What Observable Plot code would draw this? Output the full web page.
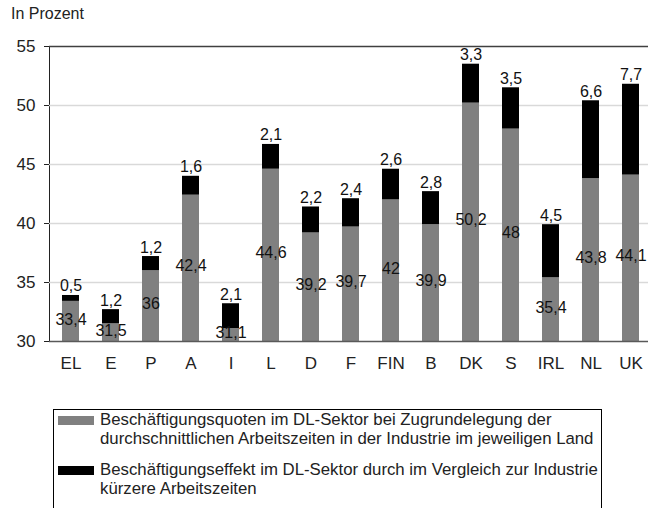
<!DOCTYPE html>
<html>
<head>
<meta charset="utf-8">
<script src="https://cdn.jsdelivr.net/npm/d3@7"></script>
<script src="https://cdn.jsdelivr.net/npm/@observablehq/plot@0.6"></script>
<style>
  html, body { margin: 0; padding: 0; background: #fff; overflow: hidden; }
  body { width: 648px; height: 508px; position: relative; font-family: "Liberation Sans", Arial, sans-serif; color: #222; }
  #title { position: absolute; left: 11px; top: 5px; font-size: 16px; }
  #chart { position: absolute; left: 0; top: 30px; }
  #legend { position: absolute; left: 53px; top: 409px; width: 549px; height: 120px; border: 1px solid #000; box-sizing: border-box; font-size: 16.8px; line-height: 19px; }
  .item { position: relative; padding-left: 46px; }
  .sw { position: absolute; left: 4px; top: 6px; width: 36px; height: 9px; }
</style>
</head>
<body>
<div id="title">In Prozent</div>
<div id="chart"></div>
<div id="legend">
  <div class="item" style="margin-top:0px"><span class="sw" style="background:#808080"></span>Beschäftigungsquoten im DL-Sektor bei Zugrundelegung der<br>durchschnittlichen Arbeitszeiten in der Industrie im jeweiligen Land</div>
  <div class="item" style="margin-top:12px"><span class="sw" style="background:#000"></span>Beschäftigungseffekt im DL-Sektor durch im Vergleich zur Industrie<br>kürzere Arbeitszeiten</div>
</div>
<script>
const countries = ["EL","E","P","A","I","L","D","F","FIN","B","DK","S","IRL","NL","UK"];
const baseValues = [33.4,31.5,36,42.4,31.1,44.6,39.2,39.7,42,39.9,50.2,48,35.4,43.8,44.1];
const effectValues = [0.5,1.2,1.2,1.6,2.1,2.1,2.2,2.4,2.6,2.8,3.3,3.5,4.5,6.6,7.7];
const seriesNames = ["base","effect"];
const yTicks = [30,35,40,45,50,55];
const yMin = 30, yMax = 55;

const fmt = v => String(v).replace(".", ",");
const rows = [];
countries.forEach((c, i) => {
  rows.push({country: c, series: "base", value: baseValues[i]});
  rows.push({country: c, series: "effect", value: effectValues[i]});
});
const baseLabels = countries.map((c, i) => ({country: c, y: (yMin + baseValues[i]) / 2, text: fmt(baseValues[i])}));
const effectLabels = countries.map((c, i) => ({country: c, y: baseValues[i] + effectValues[i], text: fmt(effectValues[i])}));

const plot = Plot.plot({
  width: 648,
  height: 345,
  marginLeft: 49,
  marginRight: 0,
  marginTop: 16,
  marginBottom: 34,
  style: {fontFamily: "'Liberation Sans', Arial, sans-serif", color: "#222", background: "#fff"},
  x: {domain: countries, range: [47, 653], paddingInner: 0.58, paddingOuter: 0.29, label: null, tickSize: 0, tickPadding: 15},
  y: {domain: [yMin, yMax], ticks: yTicks, label: null, tickSize: 5, tickPadding: 9, line: true},
  color: {domain: seriesNames, range: ["#808080", "#000000"]},
  marks: [
    Plot.ruleY(yTicks.filter(t => t > yMin && t < yMax), {stroke: "#d9d9d9", strokeWidth: 1.5}),
    Plot.ruleY([yMax], {stroke: "#404040", strokeWidth: 1.5}),
    Plot.barY(rows, Plot.stackY({x: "country", y: "value", fill: "series", clip: true, order: seriesNames})),
    Plot.ruleY([yMin], {stroke: "#595959", strokeWidth: 1.5}),
    Plot.text(baseLabels, {x: "country", y: "y", text: "text", fontSize: 16, fill: "#111", dy: -2}),
    Plot.text(effectLabels, {x: "country", y: "y", text: "text", fontSize: 16, fill: "#111", lineAnchor: "bottom", dy: -4})
  ]
});
plot.querySelectorAll('[aria-label="y-axis tick label"] text').forEach(t => t.setAttribute("font-size", "17"));
plot.querySelectorAll('[aria-label="x-axis tick label"] text').forEach(t => t.setAttribute("font-size", "17"));
document.getElementById("chart").appendChild(plot);
</script>
</body>
</html>
